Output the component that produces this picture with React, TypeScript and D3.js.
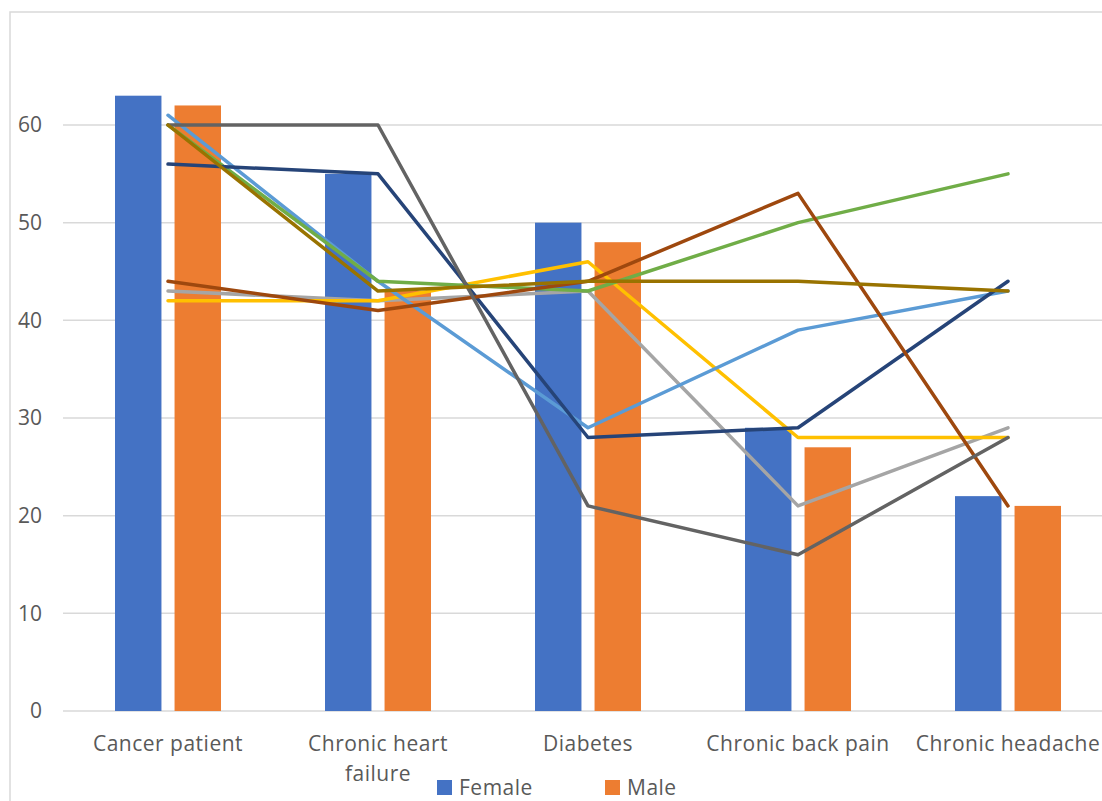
import * as React from "react";
import * as d3 from "d3";

// Chart data
const categories = ["Cancer patient", "Chronic heart failure", "Diabetes", "Chronic back pain", "Chronic headache"];
const tickLabels = [["Cancer patient"], ["Chronic heart", "failure"], ["Diabetes"], ["Chronic back pain"], ["Chronic headache"]];

const female = [63, 55, 50, 29, 22];
const male = [62, 43, 48, 27, 21];

const series3 = [43, 42, 43, 21, 29];
const series4 = [42, 42, 46, 28, 28];
const series5 = [61, 44, 29, 39, 43];
const series6 = [60, 44, 43, 50, 55];
const series7 = [56, 55, 28, 29, 44];
const series8 = [44, 41, 44, 53, 21];
const series9 = [60, 60, 21, 16, 28];
const series10 = [60, 43, 44, 44, 43];

const yTicks = [0, 10, 20, 30, 40, 50, 60];

const barSeries = [
    { name: "Female", values: female, color: "#4472C4" },
    { name: "Male", values: male, color: "#ED7D31" }
];

const lineSeries = [
    { name: "Series 3", values: series3, color: "#A5A5A5" },
    { name: "Series 4", values: series4, color: "#FFC000" },
    { name: "Series 5", values: series5, color: "#5B9BD5" },
    { name: "Series 6", values: series6, color: "#70AD47" },
    { name: "Series 7", values: series7, color: "#264478" },
    { name: "Series 8", values: series8, color: "#9E480E" },
    { name: "Series 9", values: series9, color: "#636363" },
    { name: "Series 10", values: series10, color: "#997300" }
];

export default function App() {
    const width = 1102;
    const height = 801;

    // plot area
    const left = 63;
    const right = 1113;
    const y0 = 711;
    const y60 = 125;

    const x = d3.scaleBand<string>().domain(categories).range([left, right]).padding(0);
    const groupWidth = 106;
    const xInner = d3.scaleBand<string>().domain(barSeries.map(s => s.name)).range([0, groupWidth]).paddingInner(0.22);
    const y = d3.scaleLinear().domain([0, 60]).range([y0, y60]);

    const lineGen = d3.line<number>()
        .x((d, i) => (x(categories[i]) as number) + x.bandwidth() / 2)
        .y(d => y(d));

    const textColor = "#595959";
    const font = "'Open Sans', 'Noto Sans', sans-serif";
    const fontSize = 21;
    const spacing = "0.5px";

    return (
        <svg width={width} height={height} style={{ position: "absolute", left: 0, top: 0, background: "#fff" }}>
            {/* chart frame */}
            <rect x={10} y={12} width={width + 20} height={height + 20} fill="#fff" stroke="#D9D9D9" strokeWidth={1.5} />

            {/* gridlines */}
            {yTicks.map(t => (
                <line key={t} x1={left} x2={right} y1={y(t)} y2={y(t)} stroke="#D9D9D9" strokeWidth={1.5} />
            ))}

            {/* y tick labels */}
            {yTicks.map(t => (
                <text key={t} x={42} y={y(t)} dy="0.35em" textAnchor="end" fill={textColor}
                    fontFamily={font} fontSize={fontSize}>{t}</text>
            ))}

            {/* bars */}
            {categories.map((c, i) => {
                const gx = (x(c) as number) + (x.bandwidth() - groupWidth) / 2;
                return (
                    <g key={c} transform={`translate(${gx},0)`}>
                        {barSeries.map(s => (
                            <rect key={s.name} x={xInner(s.name)} y={y(s.values[i])}
                                width={xInner.bandwidth()} height={y0 - y(s.values[i])} fill={s.color} />
                        ))}
                    </g>
                );
            })}

            {/* lines */}
            {lineSeries.map(s => (
                <path key={s.name} d={lineGen(s.values) || ""} fill="none" stroke={s.color}
                    strokeWidth={3.5} strokeLinejoin="round" strokeLinecap="round" />
            ))}

            {/* x tick labels */}
            {categories.map((c, i) => (
                <text key={c} x={(x(c) as number) + x.bandwidth() / 2} y={751} textAnchor="middle"
                    fill={textColor} fontFamily={font} fontSize={fontSize} letterSpacing={spacing}>
                    {tickLabels[i].map((line, j) => (
                        <tspan key={j} x={(x(c) as number) + x.bandwidth() / 2} dy={j === 0 ? 0 : 30}>{line}</tspan>
                    ))}
                </text>
            ))}

            {/* legend */}
            <g>
                {barSeries.map((s, i) => {
                    const lx = [437, 605][i];
                    return (
                        <g key={s.name} transform={`translate(${lx},780)`}>
                            <rect x={0} y={0} width={15} height={15} fill={s.color} />
                            <text x={22} y={7.5} dy="0.35em" fill={textColor} fontFamily={font}
                                fontSize={fontSize} letterSpacing={spacing}>{s.name}</text>
                        </g>
                    );
                })}
            </g>
        </svg>
    );
}
